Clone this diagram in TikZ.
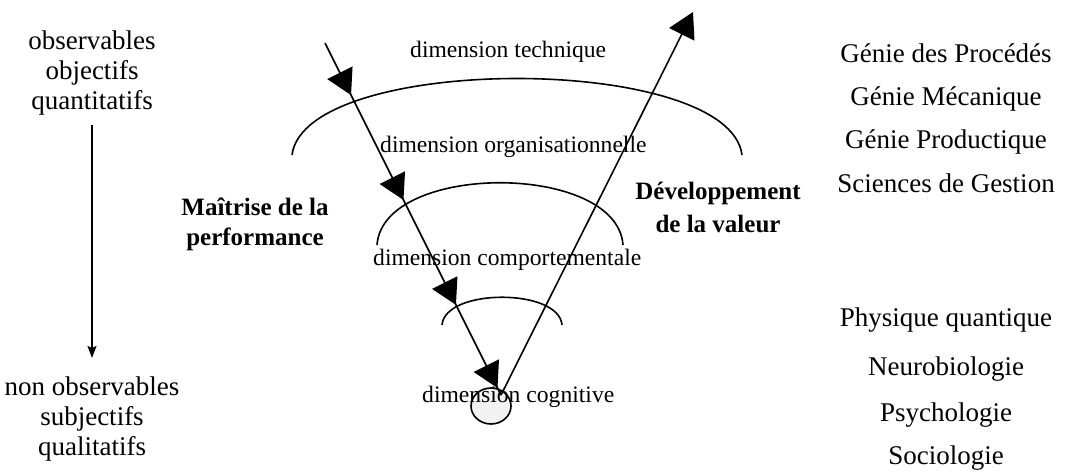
\documentclass[tikz,border=0pt]{standalone}
\usepackage{fontspec}
\setmainfont{Liberation Serif}
\usetikzlibrary{arrows.meta,calc}
\begin{document}
\begin{tikzpicture}[x=1pt,y=-1pt,
  side/.style={font=\fontsize{27}{30}\selectfont, anchor=base, inner sep=0pt},
  dimlabel/.style={font=\fontsize{23.6}{28}\selectfont, anchor=base west, inner sep=0pt},
  boldlabel/.style={font=\fontsize{25}{30}\selectfont\bfseries, anchor=base, inner sep=0pt},
  ln/.style={line width=1.6pt},
  bigtip/.style={-{Triangle[length=25pt,width=28pt]}},
  smalltip/.style={-{Stealth[length=12pt,width=9pt,inset=2pt]}},
]
\useasboundingbox (0,0) rectangle (1083,473);

% left column
\node[side] (obs1) at (92,50) {observables};
\node[side] (obs2) at (92,80) {objectifs};
\node[side] (obs3) at (92,110) {quantitatifs};
\node[side] (nob1) at (92,395) {non observables};
\node[side] (nob2) at (92,425) {subjectifs};
\node[side] (nob3) at (92,455) {qualitatifs};
\coordinate (vtop) at (92,125);
\coordinate (vbot) at (92,358);
\draw[ln, smalltip] (vtop) -- (vbot);

% right column
\node[side] (r1) at (946,63) {Génie des Procédés};
\node[side] (r2) at (946,106) {Génie Mécanique};
\node[side] (r3) at (946,149) {Génie Productique};
\node[side] (r4) at (946,192) {Sciences de Gestion};
\node[side] (r5) at (946,326) {Physique quantique};
\node[side] (r6) at (946,375) {Neurobiologie};
\node[side] (r7) at (946,421) {Psychologie};
\node[side] (r8) at (946,464) {Sociologie};

% arcs
\draw[ln] (292,155) .. controls (305,53) and (729,53) .. (742,155);
\draw[ln] (377,245) .. controls (383,162) and (617,162) .. (623,245);
\draw[ln] (442,325) .. controls (445,288) and (559,288) .. (562,325);

% ellipse
\draw[ln, fill=gray!10] (491,406) ellipse [x radius=20pt, y radius=18pt];

% the V
\coordinate (A) at (325,43);
\coordinate (V) at (501,395);
\coordinate (C) at (693,12);
\draw[ln] (A) -- (V);
\draw[ln, bigtip] (V) -- (C);
\draw[ln, bigtip] ($(A)!0.10!(V)$) -- ($(A)!0.148!(V)$);
\draw[ln, bigtip] ($(A)!0.40!(V)$) -- ($(A)!0.446!(V)$);
\draw[ln, bigtip] ($(A)!0.70!(V)$) -- ($(A)!0.744!(V)$);
\draw[ln, bigtip] ($(A)!0.93!(V)$) -- ($(A)!0.98!(V)$);

% dimension labels
\node[dimlabel] (d1) at (410,58) {dimension technique};
\node[dimlabel] (d2) at (380,153) {dimension organisationnelle};
\node[dimlabel] (d3) at (373,265) {dimension comportementale};
\node[dimlabel] (d4) at (422,402) {dimension cognitive};

% bold labels
\node[boldlabel] (m1) at (255,215) {Maîtrise de la};
\node[boldlabel] (m2) at (255,245) {performance};
\node[boldlabel] (v1) at (718,200) {Développement};
\node[boldlabel] (v2) at (718,232) {de la valeur};
\end{tikzpicture}
\end{document}
